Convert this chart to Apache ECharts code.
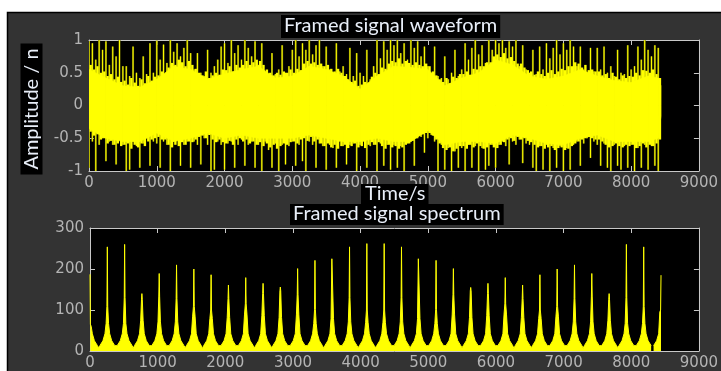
<!DOCTYPE html>
<html><head><meta charset="utf-8">
<script src="https://cdn.jsdelivr.net/npm/echarts@6/dist/echarts.min.js"></script>
<style>html,body{margin:0;padding:0;background:#fff;}#c{width:721px;height:371px;}</style>
</head><body><div id="c"></div>
<script>
// ---------------- DATA ----------------
const waveTitle = 'Framed signal waveform';
const specTitle = 'Framed signal spectrum';
const xName = 'Time/s';
const yName = 'Amplitude / n';
const xTickMax = 9000, xTickStep = 1000;
const ampMin = -1, ampMax = 1, ampStep = 0.5;
const specMin = 0, specMax = 300, specStep = 100;

// solid core of the waveform (sample index, upper edge, lower edge)
const bandTime  = [0,250,500,750,1000,1250,1500,1750,2000,2250,2500,2750,3000,3250,3500,3750,4000,4250,4500,4750,5000,5250,5500,5750,6000,6250,6500,6750,7000,7250,7500,7750,8000,8250,8400,8440];
const bandUpper = [0.55,0.42,0.3,0.28,0.4,0.6,0.55,0.4,0.48,0.55,0.6,0.42,0.45,0.6,0.55,0.45,0.25,0.45,0.6,0.58,0.55,0.3,0.42,0.5,0.7,0.62,0.45,0.4,0.45,0.55,0.45,0.38,0.35,0.45,0.42,0.3];
const bandLower = [-0.35,-0.5,-0.55,-0.55,-0.42,-0.55,-0.5,-0.42,-0.5,-0.45,-0.5,-0.5,-0.5,-0.45,-0.5,-0.55,-0.55,-0.5,-0.55,-0.55,-0.38,-0.6,-0.55,-0.55,-0.58,-0.45,-0.5,-0.58,-0.6,-0.5,-0.45,-0.55,-0.55,-0.55,-0.5,-0.16];

// tall waveform peaks, one every 50 samples
const spikeStep = 50;
const spikeUp = [
 0.98,0.95,0.7,1.0,0.85,0.98,0.62,0.9,0.75,1.0,
 0.6,0.6,0.45,0.9,0.5,0.42,0.75,0.48,0.95,0.5,
 0.99,0.7,0.93,0.65,1.0,0.82,0.95,0.75,0.88,1.0,
 0.8,0.55,0.8,0.5,0.45,0.85,0.5,0.6,0.7,0.9,
 0.95,0.65,1.0,0.8,0.92,0.7,1.0,0.88,0.75,0.98,
 0.62,0.95,0.5,0.45,0.8,0.48,0.55,0.92,0.5,0.6,
 0.85,1.0,0.75,0.95,0.85,1.0,0.78,0.92,1.0,0.6,
 0.9,0.55,0.5,0.95,0.52,0.6,0.48,0.88,0.45,0.8,
 0.5,0.45,0.85,0.4,0.6,1.0,0.72,0.98,0.85,1.0,
 0.92,1.0,0.8,0.95,0.7,1.0,0.88,0.98,0.75,0.9,
 0.6,0.5,0.9,0.45,0.42,0.75,0.4,0.5,0.85,0.45,
 0.55,0.95,0.7,0.88,1.0,0.78,0.92,0.65,1.0,0.85,
 1.0,0.95,1.0,0.88,0.98,0.9,1.0,0.6,0.92,0.55,
 0.5,0.85,0.48,0.9,0.55,0.95,0.72,0.88,1.0,0.78,
 0.95,0.85,1.0,0.9,0.6,0.9,0.55,0.5,0.88,0.52,
 0.88,0.55,0.9,0.5,0.6,0.45,0.85,0.5,0.48,0.92,
 0.55,0.6,0.9,0.7,1.0,0.85,0.75,0.92,0.88];
const spikeDown = [
 -0.95,-0.55,-1.0,-0.6,-0.5,-0.85,-0.55,-0.6,-0.9,-0.52,
 -0.6,-1.0,-0.98,-0.55,-0.62,-0.95,-0.58,-0.5,-0.92,-0.55,
 -0.58,-0.95,-0.55,-0.6,-1.0,-0.55,-0.5,-0.92,-0.6,-0.55,
 -0.95,-0.55,-0.6,-0.9,-0.5,-0.6,-1.0,-0.98,-0.55,-0.6,
 -0.98,-0.58,-0.55,-0.95,-0.6,-0.52,-0.92,-0.6,-0.55,-0.95,
 -0.6,-1.0,-0.55,-0.68,-0.95,-0.58,-1.0,-0.6,-0.9,-0.62,
 -0.55,-0.92,-0.6,-0.85,-1.0,-0.55,-0.6,-0.95,-0.58,-0.62,
 -0.98,-0.6,-0.65,-0.95,-0.55,-0.62,-0.9,-0.6,-0.58,-1.0,
 -0.6,-0.55,-0.95,-0.62,-0.6,-1.0,-0.58,-0.92,-0.6,-0.98,
 -0.6,-0.95,-0.62,-1.0,-0.58,-0.55,-0.92,-0.5,-0.48,-0.72,
 -0.5,-0.45,-0.55,-1.0,-0.6,-0.98,-0.65,-1.0,-0.7,-0.95,
 -0.65,-1.0,-0.6,-0.95,-0.62,-1.0,-0.65,-0.98,-0.92,-0.6,
 -0.95,-0.6,-0.55,-0.62,-0.9,-0.55,-0.6,-0.52,-0.88,-0.58,
 -0.6,-0.95,-1.0,-0.62,-0.98,-0.6,-1.0,-0.65,-0.95,-0.62,
 -1.0,-0.65,-0.98,-0.6,-0.55,-0.92,-0.58,-0.5,-0.8,-0.55,
 -0.6,-0.92,-0.58,-0.95,-1.0,-0.6,-0.92,-0.98,-0.62,-0.95,
 -0.6,-1.0,-0.65,-0.95,-0.6,-0.98,-0.62,-0.92,-1.0];

// intermediate peaks between the tall ones (offset by half a step)
const midOffset = 25;
const midUp = [
 0.62,0.55,0.6,0.5,0.52,0.45,0.48,0.4,0.44,0.36,
 0.38,0.32,0.42,0.35,0.3,0.4,0.34,0.45,0.38,0.44,
 0.46,0.52,0.48,0.58,0.65,0.62,0.7,0.66,0.6,0.68,
 0.62,0.56,0.5,0.46,0.52,0.42,0.46,0.5,0.47,0.55,
 0.54,0.6,0.52,0.62,0.58,0.62,0.68,0.62,0.66,0.7,
 0.68,0.62,0.55,0.5,0.46,0.5,0.47,0.52,0.5,0.55,
 0.5,0.56,0.54,0.64,0.68,0.64,0.66,0.62,0.64,0.6,
 0.62,0.56,0.52,0.56,0.5,0.45,0.4,0.36,0.38,0.3,
 0.32,0.36,0.35,0.44,0.5,0.48,0.58,0.56,0.64,0.68,
 0.66,0.72,0.64,0.68,0.65,0.62,0.66,0.62,0.6,0.64,
 0.6,0.52,0.46,0.4,0.36,0.42,0.34,0.44,0.42,0.48,
 0.48,0.52,0.47,0.56,0.55,0.6,0.6,0.66,0.66,0.75,
 0.78,0.74,0.8,0.72,0.74,0.68,0.64,0.64,0.58,0.54,
 0.52,0.47,0.52,0.48,0.45,0.5,0.54,0.48,0.52,0.56,
 0.54,0.6,0.6,0.66,0.64,0.58,0.62,0.54,0.55,0.52,
 0.52,0.46,0.48,0.42,0.5,0.44,0.4,0.46,0.42,0.45,
 0.44,0.5,0.46,0.54,0.53,0.5,0.55,0.48,0.42];
const midDown = [
 -0.4,-0.46,-0.44,-0.52,-0.5,-0.58,-0.54,-0.6,-0.58,-0.62,
 -0.6,-0.58,-0.66,-0.6,-0.64,-0.58,-0.62,-0.55,-0.52,-0.5,
 -0.48,-0.52,-0.52,-0.6,-0.64,-0.6,-0.62,-0.56,-0.6,-0.55,
 -0.56,-0.52,-0.48,-0.46,-0.5,-0.45,-0.52,-0.56,-0.52,-0.56,
 -0.58,-0.54,-0.6,-0.52,-0.5,-0.55,-0.52,-0.58,-0.55,-0.6,
 -0.56,-0.62,-0.58,-0.64,-0.6,-0.66,-0.62,-0.58,-0.6,-0.56,
 -0.55,-0.58,-0.52,-0.5,-0.54,-0.48,-0.55,-0.52,-0.58,-0.62,
 -0.58,-0.64,-0.6,-0.66,-0.62,-0.6,-0.65,-0.62,-0.58,-0.64,
 -0.62,-0.65,-0.6,-0.56,-0.6,-0.56,-0.62,-0.66,-0.6,-0.64,
 -0.62,-0.66,-0.64,-0.6,-0.58,-0.54,-0.5,-0.46,-0.44,-0.42,
 -0.42,-0.46,-0.52,-0.58,-0.65,-0.68,-0.64,-0.7,-0.66,-0.62,
 -0.62,-0.66,-0.6,-0.64,-0.58,-0.62,-0.66,-0.64,-0.6,-0.64,
 -0.65,-0.6,-0.56,-0.52,-0.5,-0.54,-0.48,-0.52,-0.5,-0.54,
 -0.56,-0.6,-0.64,-0.62,-0.66,-0.64,-0.62,-0.68,-0.65,-0.64,
 -0.68,-0.66,-0.62,-0.58,-0.55,-0.52,-0.5,-0.48,-0.5,-0.52,
 -0.52,-0.55,-0.6,-0.64,-0.62,-0.58,-0.62,-0.64,-0.6,-0.62,
 -0.6,-0.65,-0.62,-0.58,-0.64,-0.6,-0.62,-0.58,-0.52];

// spectrum: harmonic positions, main line, secondary line, shoulder height
const specEnd = 8440;
const specPeakFreq = [0,256,512,767,1023,1279,1535,1790,2046,2302,2558,2813,3069,3325,3581,3836,4092,4348,4604,4859,5115,5371,5627,5882,6138,6394,6650,6905,7161,7417,7673,7928,8184,8440];
const specMain     = [187,254,260,140,189,210,200,186,161,179,165,156,201,221,227,254,262,262,254,227,221,201,155,165,179,161,186,200,210,189,140,260,254,185];
const specSecond   = [65,109,130,125,134,128,109,100,128,115,140,147,137,101,225,130,100,100,130,225,101,137,147,140,115,128,100,109,128,134,125,130,109,100];
const specShoulder = [60,67,67,75,71,71,85,79,82,90,86,82,88,67,79,71,70,70,71,79,67,88,82,86,90,82,79,85,71,71,75,67,67,95];
const specFloor    = [8,10,7,9,11,8,6,9,10,7,8,12,9,7,10,8,8,10,7,9,12,8,10,9,6,8,11,9,7,10,8,9];

// ---------------- BUILD ----------------
const YEL = '#ffff00', OLIVE = '#707000';
const spikeData = [];
spikeUp.forEach((v, i) => spikeData.push([i * spikeStep, v]));
spikeDown.forEach((v, i) => spikeData.push([i * spikeStep, v]));
const midData = [];
midUp.forEach((v, i) => midData.push([i * spikeStep + midOffset, v]));
midDown.forEach((v, i) => midData.push([i * spikeStep + midOffset, v]));
const bandData = bandTime.map((t, i) => [t, bandUpper[i], bandLower[i]]);

const specData = [];
specPeakFreq.forEach((f, k) => {
  const pts = [[f-110,13],[f-65,25],[f-35,42],[f-18,specShoulder[k]],[f-6,specSecond[k]],[f,specMain[k]],
               [f+6,specSecond[k]],[f+18,specShoulder[k]],[f+35,42],[f+65,25],[f+110,13]];
  pts.forEach(p => { if (p[0] >= 0 && p[0] <= specEnd) specData.push(p); });
  if (k < specPeakFreq.length - 1) specData.push([(f + specPeakFreq[k+1]) / 2, specFloor[k]]);
});

const AX = '#c8c8c8', LBL = '#b4b4b4';
const lblStyle = {color: LBL, fontFamily: 'DejaVu Sans', fontSize: 15, formatter: v => String(v)};
function xAx(grid, pos, show) {
  return {type:'value', gridIndex:grid, position:pos, min:0, max:xTickMax, interval:xTickStep,
    axisLine:{show:true, onZero:false, lineStyle:{color:AX, width:1}},
    axisTick:{show:true, inside:true, length:5, lineStyle:{color:AX}},
    axisLabel: Object.assign({show:show, margin:5}, lblStyle),
    splitLine:{show:false}};
}
function yAx(grid, pos, show, mn, mx, st) {
  return {type:'value', gridIndex:grid, position:pos, min:mn, max:mx, interval:st,
    axisLine:{show:true, onZero:false, lineStyle:{color:AX, width:1}},
    axisTick:{show:true, inside:true, length:5, lineStyle:{color:AX}},
    axisLabel: Object.assign({show:show, margin:6}, lblStyle),
    splitLine:{show:false}};
}
function vline(api, x, y0, y1) {
  const a = api.coord([x, y0]), b = api.coord([x, y1]);
  return {x1:a[0], y1:a[1], x2:b[0], y2:b[1]};
}

const chart = echarts.init(document.getElementById('c'), null, {renderer:'canvas'});
chart.setOption({
  backgroundColor: '#ffffff',
  animation: false,
  grid: [
    {left:89, top:40, width:620, height:131, show:true, backgroundColor:'#000', borderWidth:0},
    {left:90, top:228, width:619, height:131, show:true, backgroundColor:'#000', borderWidth:0}
  ],
  xAxis: [xAx(0,'bottom',true), xAx(0,'top',false), xAx(1,'bottom',true), xAx(1,'top',false)],
  yAxis: [yAx(0,'left',true,ampMin,ampMax,ampStep), yAx(0,'right',false,ampMin,ampMax,ampStep),
          yAx(1,'left',true,specMin,specMax,specStep), yAx(1,'right',false,specMin,specMax,specStep)],
  graphic: [
    {type:'rect', z:-100, shape:{x:7.5, y:12.5, width:720, height:365}, style:{fill:'#333333', stroke:'#000', lineWidth:1.5}},
    {type:'text', z:100, x:281, y:15, style:{text:waveTitle, fill:'#e8eef8', fontFamily:'Lato', fontSize:20, backgroundColor:'#000', padding:[1,3,2,3]}},
    {type:'text', z:100, x:361, y:184, style:{text:xName, fill:'#e8eef8', fontFamily:'Lato', fontSize:20, backgroundColor:'#000', padding:[0,3,0,4]}},
    {type:'text', z:101, x:290, y:204, style:{text:specTitle, fill:'#e8eef8', fontFamily:'Lato', fontSize:20, backgroundColor:'#000', padding:[0,3,1,3]}},
    {type:'text', z:100, x:31.5, y:109, rotation:Math.PI/2, style:{text:yName, fill:'#e8eef8', fontFamily:'Lato', fontSize:20, align:'center', verticalAlign:'middle', backgroundColor:'#000', padding:[1,5,1,5]}}
  ],
  series: [
    {type:'custom', xAxisIndex:0, yAxisIndex:0, z:2, clip:true, data:spikeData,
     encode:{x:0, y:1},
     renderItem(params, api) {
       const sh = vline(api, api.value(0), 0, api.value(1));
       return {type:'group', children:[
         {type:'line', shape:sh, style:{stroke:OLIVE, lineWidth:2.0}},
         {type:'line', shape:sh, style:{stroke:YEL, lineWidth:1.0}}
       ]};
     }},
    {type:'custom', xAxisIndex:0, yAxisIndex:0, z:3, clip:true, data:midData,
     encode:{x:0, y:1},
     renderItem(params, api) {
       return {type:'line', shape:vline(api, api.value(0), 0, api.value(1)), style:{stroke:YEL, lineWidth:2.4}};
     }},
    {type:'custom', xAxisIndex:0, yAxisIndex:0, z:4, clip:true, data:bandData,
     encode:{x:0, y:[1,2]},
     renderItem(params, api) {
       const i = params.dataIndex;
       if (i >= bandTime.length - 1) return null;
       const p1 = api.coord([bandTime[i], bandUpper[i]]);
       const p2 = api.coord([bandTime[i+1], bandUpper[i+1]]);
       const p3 = api.coord([bandTime[i+1], bandLower[i+1]]);
       const p4 = api.coord([bandTime[i], bandLower[i]]);
       return {type:'polygon', shape:{points:[p1,p2,p3,p4]}, style:{fill:YEL, stroke:YEL, lineWidth:0.6}};
     }},
    {type:'line', xAxisIndex:2, yAxisIndex:2, z:3, clip:true, data:specData, symbol:'none',
     lineStyle:{color:YEL, width:1}, areaStyle:{color:YEL, opacity:1}}
  ]
});
</script>
</body></html>
